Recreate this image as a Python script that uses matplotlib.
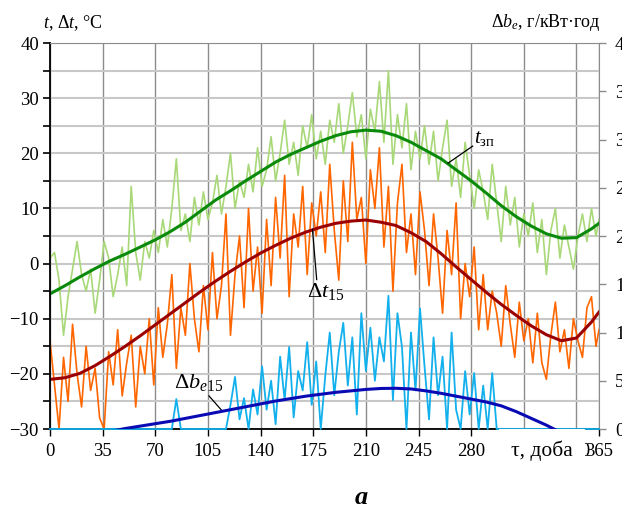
import numpy as np
import matplotlib
matplotlib.use('Agg')
import matplotlib.pyplot as plt

plt.rcParams['font.family'] = ['Liberation Serif', 'DejaVu Serif']
plt.rcParams['mathtext.fontset'] = 'custom'
plt.rcParams['mathtext.rm'] = 'Liberation Serif'
plt.rcParams['mathtext.it'] = 'Liberation Serif:italic'
plt.rcParams['mathtext.bf'] = 'Liberation Serif:bold'

# daily (every 3rd day) values
days = list(range(0, 364, 3)) + [365]

t_daily = [1, 2, -3, -13, -6, -1, 4, -2, -5, -1, -9, -3,
           4, 1, -6, -2, 3, -4, 14, 2, -3, 4, 1, 6,
           2, 8, 3, 10, 19, 6, 9, 4, 12, 7, 13, 8,
           11, 16, 9, 14, 20, 10, 15, 12, 18, 13, 21, 14,
           17, 23, 15, 20, 26, 18, 22, 16, 25, 21, 27, 19,
           24, 18, 26, 22, 29, 20, 25, 31, 23, 27, 19, 28,
           24, 33, 22, 35, 18, 27, 21, 29, 17, 24, 19, 25,
           18, 24, 15, 21, 26, 14, 19, 12, 22, 16, 10, 17,
           13, 8, 18, 11, 4, 14, 7, 12, 3, 9, 5, 11,
           2, 8, -2, 6, 10, 1, 7, 3, -1, 5, 9, 4,
           10, 5, 8]

dt_daily = [-14, -22, -30, -17, -25, -11, -20, -26, -15, -23, -19, -28,
            -30, -16, -22, -12, -24, -18, -13, -26, -15, -20, -10, -22,
            -8, -17, -11, -2, -19, -8, -13, 0, -10, -16, -4, -12,
            2, -10, -4, 9, -13, -2, 5, -8, 10, -5, 3, -9,
            8, -4, 12, 1, 16, -6, 9, 3, 14, -2, 11, 5,
            13, 2, 18, 6, -3, 15, 4, 22, 8, 12, 0, 17,
            10, 21, 3, 14, -5, 11, 18, 2, 9, -2, 13, 6,
            -4, 9, 1, -9, 6, -2, 11, -10, 0, -6, 3, -12,
            -2, -12, -5, -9, -15, -4, -11, -17, -7, -14, -10, -18,
            -9, -18, -21, -13, -7, -16, -12, -19, -10, -14, -17, -8,
            -6, -15, -12]

db_daily = ([0] * 24 +
            [0, 0, 0, 0, 3.1, 0, 0, 0, 0, 0, 0, 0] +
            [0, 0, 0, 0, 2.5, 5.4, 1.0, 3.2, 0, 4.1, 1.5, 6.5] +
            [2.0, 5.0, 0.5, 7.5, 3.0, 8.5, 1.2, 6.0, 4.0, 9.0, 2.5, 7.0] +
            [0, 5.5, 10.0, 3.5, 8.0, 11.0, 4.5, 9.5, 1.5, 12.0, 6.0, 10.5] +
            [5.0, 9.5, 7.0, 13.8, 3.0, 12.0, 8.5, 0, 10.0, 4.0, 12.5, 6.5] +
            [1.0, 9.5, 3.5, 7.5, 0, 10.0, 2.0, 0, 6.0, 1.5, 5.8, 0] +
            [4.5, 0, 5.8, 0, 0, 0, 0, 0, 0, 0, 0, 0] +
            [0] * 15)

# smooth curves
sdays = list(range(0, 361, 10)) + [365]
t_zp = [-5.5, -4.0, -2.4, -0.9, 0.5, 1.7, 3.0, 4.3, 5.8, 7.5, 9.5, 11.5, 13.2,
        15.0, 16.7, 18.4, 19.8, 21.0, 22.2, 23.2, 23.9, 24.2, 24.0, 23.2, 22.0,
        20.5, 19.0, 17.0, 15.0, 12.8, 10.5, 8.5, 6.8, 5.4, 4.6, 4.7, 6.3, 7.3]
dt15 = [-21.0, -20.7, -19.9, -18.5, -16.8, -15.0, -13.1, -11.1, -9.1, -7.1,
        -5.1, -3.2, -1.4, 0.3, 1.9, 3.3, 4.6, 5.7, 6.6, 7.3, 7.7, 7.9, 7.5,
        6.9, 5.6, 4.0, 1.8, -0.6, -2.9, -5.2, -7.4, -9.4, -11.3, -12.9, -14.0,
        -13.5, -10.6, -8.8]
db15 = [-1.8, -1.4, -1.0, -0.6, -0.25, 0.05, 0.3, 0.55, 0.8, 1.1, 1.4, 1.7,
        2.0, 2.3, 2.6, 2.9, 3.15, 3.4, 3.6, 3.8, 3.95, 4.1, 4.2, 4.22, 4.15,
        3.95, 3.7, 3.4, 3.1, 2.8, 2.4, 1.8, 1.1, 0.4, -0.4, -1.2, -1.8, -2.0]

xticks = [0, 35, 70, 105, 140, 175, 210, 245, 280, 315, 350, 365]

fig = plt.figure(figsize=(6.22, 5.11), dpi=100)
ax = fig.add_axes([50 / 622, 1 - 429 / 511, 549 / 622, 386 / 511])
ax2 = ax.twinx()

ax.plot(days, t_daily, color='#a8d878', lw=1.2)
ax.plot(sdays, t_zp, color='#0a8a0a', lw=2.2)
ax.plot(days, dt_daily, color='#ff6600', lw=1.2)
ax.plot(sdays, dt15, color='#9b0000', lw=2.2)
ax2.plot(days, db_daily, color='#12b0ec', lw=1.3, clip_on=False)
ax2.plot(sdays, db15, color='#0a0ab4', lw=2.2)

ax.set_xlim(0, 365)
ax.set_ylim(-30, 40)
ax2.set_ylim(0, 40)

ax.set_xticks(xticks)
ax.set_xticklabels([str(v) for v in xticks])
ax.set_yticks(np.arange(-30, 41, 10))
ax.set_yticks(np.arange(-25, 40, 10), minor=True)
ax2.set_yticks(np.arange(0, 41, 5))

ax.grid(axis='x', color='#8c8c8c', lw=1.0)
ax.grid(axis='y', which='both', color='#c8c8c8', lw=1.5)
ax.set_axisbelow(True)

for s in ['left', 'bottom']:
    ax.spines[s].set_color('black')
    ax.spines[s].set_linewidth(1.3)
for s in ['top', 'right']:
    ax.spines[s].set_color('#8c8c8c')
for s in ax2.spines.values():
    s.set_visible(False)

ax.tick_params(axis='y', which='both', direction='out', length=5, width=1.2,
               labelsize=13.5, pad=3)
ax.tick_params(axis='x', direction='out', length=5, width=1, labelsize=13.5, pad=5)
ax2.tick_params(axis='y', direction='out', length=5, width=1, color='#8c8c8c',
                labelsize=13.5, pad=6.5)

# leader lines and curve labels
ax.plot([264.6, 281], [18.2, 21.3], color='k', lw=0.9)
ax.text(282, 21.0, r'$t_{\mathrm{зп}}$', fontsize=15, ha='left', va='bottom')
ax.plot([174.5, 177.3], [6.2, -2.9], color='k', lw=0.9)
ax.text(183, -5.0, r'$\Delta t_{15}$', fontsize=16, ha='center', va='center')
ax.plot([105.7, 114.4], [-24.0, -26.7], color='k', lw=0.9)
ax.text(98.5, -21.5, r'$\Delta b_{e15}$', fontsize=16, ha='center', va='center')

fig.text(43 / 622, 1 - 28 / 511, r'$t$, $\Delta t$, °C', fontsize=13,
         ha='left', va='baseline')
fig.text(601 / 622, 1 - 27 / 511, r'$\Delta b_e$, г/кВт·год', fontsize=13,
         ha='right', va='baseline')
fig.text(573 / 622, 1 - 451 / 511, 'τ, доба', fontsize=15.5, ha='right',
         va='center', zorder=10,
         bbox=dict(boxstyle='square,pad=0.56', fc='white', ec='none'))
fig.text(361 / 622, 1 - 497 / 511, 'a', fontsize=19, fontstyle='italic',
         fontweight='bold', ha='center', va='center')

fig.savefig('out.png', dpi=100)
